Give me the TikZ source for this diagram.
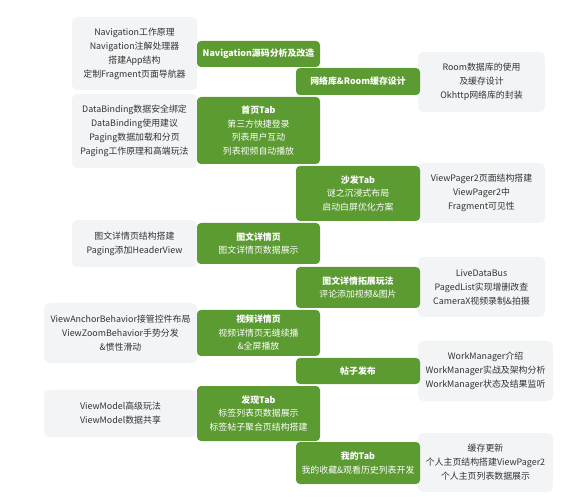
\documentclass[tikz,border=0pt]{standalone}
\usepackage{fontspec}
\setmainfont{Noto Sans CJK SC}
\definecolor{leaf}{RGB}{92,154,50}
\definecolor{mist}{RGB}{243,244,246}
\definecolor{ink}{RGB}{51,51,51}
\begin{document}
\begin{tikzpicture}[x=1pt,y=-1pt,
  topic/.style={fill=leaf,text=white,rounded corners=4pt,align=center,inner sep=0pt,
    font=\fontsize{8.9}{13.5}\selectfont},
  note/.style={fill=mist,text=ink,rounded corners=5pt,align=center,inner sep=0pt,
    font=\fontsize{8.9}{14}\selectfont}]
\useasboundingbox (0,0) rectangle (582,500);
% details on the left
\node[note,minimum width=125pt,minimum height=73pt] (nav) at (134.5,53.5)
  {Navigation工作原理\\Navigation注解处理器\\搭建App结构\\定制Fragment页面导航器};
\node[note,minimum width=125pt,minimum height=74pt] (bind) at (134.5,131)
  {DataBinding数据安全绑定\\DataBinding使用建议\\Paging数据加载和分页\\Paging工作原理和高端玩法};
\node[note,minimum width=125pt,minimum height=47pt] (pic) at (134.5,243.5)
  {图文详情页结构搭建\\Paging添加HeaderView};
\node[note,minimum width=153pt,minimum height=60pt] (anchor) at (120.5,333)
  {ViewAnchorBehavior接管控件布局\\ViewZoomBehavior手势分发\\\&惯性滑动};
\node[note,minimum width=153pt,minimum height=47pt] (vm) at (120.5,413.5)
  {ViewModel高级玩法\\ViewModel数据共享};
% details on the right
\node[note,minimum width=127pt,minimum height=60pt] (room) at (481.5,82)
  {Room数据库的使用\\及缓存设计\\Okhttp网络库的封装};
\node[note,minimum width=127pt,minimum height=60pt] (pager) at (481.5,193)
  {ViewPager2页面结构搭建\\ViewPager2中\\Fragment可见性};
\node[note,minimum width=127pt,minimum height=60pt] (bus) at (481.5,287)
  {LiveDataBus\\PagedList实现增删改查\\CameraX视频录制\&拍摄};
\node[note,minimum width=135pt,minimum height=60pt] (work) at (485.5,371)
  {WorkManager介绍\\WorkManager实战及架构分析\\WorkManager状态及结果监听};
\node[note,minimum width=135pt,minimum height=59pt] (cache) at (485.5,462.5)
  {缓存更新\\个人主页结构搭建ViewPager2\\个人主页列表数据展示};
% the green steps
\node[topic,minimum width=123pt,minimum height=26pt] (src) at (258.5,54)
  {\bfseries Navigation源码分析及改造};
\node[topic,minimum width=124pt,minimum height=27pt] (net) at (358,81.5)
  {\bfseries 网络库\&Room缓存设计};
\node[topic,minimum width=123pt,minimum height=67pt] (home) at (258.5,130.5)
  {{\bfseries 首页Tab}\\第三方快捷登录\\列表用户互动\\列表视频自动播放};
\node[topic,minimum width=124pt,minimum height=55pt] (sofa) at (358,193.5)
  {{\bfseries 沙发Tab}\\谜之沉浸式布局\\启动白屏优化方案};
\node[topic,minimum width=123pt,minimum height=41pt] (detail) at (258.5,243.5)
  {{\bfseries 图文详情页}\\图文详情页数据展示};
\node[topic,minimum width=124pt,minimum height=41pt] (more) at (358,287.5)
  {{\bfseries 图文详情拓展玩法}\\评论添加视频\&图片};
\node[topic,minimum width=123pt,minimum height=46pt] (video) at (258.5,333)
  {{\bfseries 视频详情页}\\视频详情页无缝续播\\\&全屏播放};
\node[topic,minimum width=124pt,minimum height=26pt] (post) at (358,371)
  {\bfseries 帖子发布};
\node[topic,minimum width=123pt,minimum height=55pt] (find) at (258.5,413.5)
  {{\bfseries 发现Tab}\\标签列表页数据展示\\标签帖子聚合页结构搭建};
\node[topic,minimum width=124pt,minimum height=42pt] (mine) at (358,463)
  {{\bfseries 我的Tab}\\我的收藏\&观看历史列表开发};
\end{tikzpicture}
\end{document}
